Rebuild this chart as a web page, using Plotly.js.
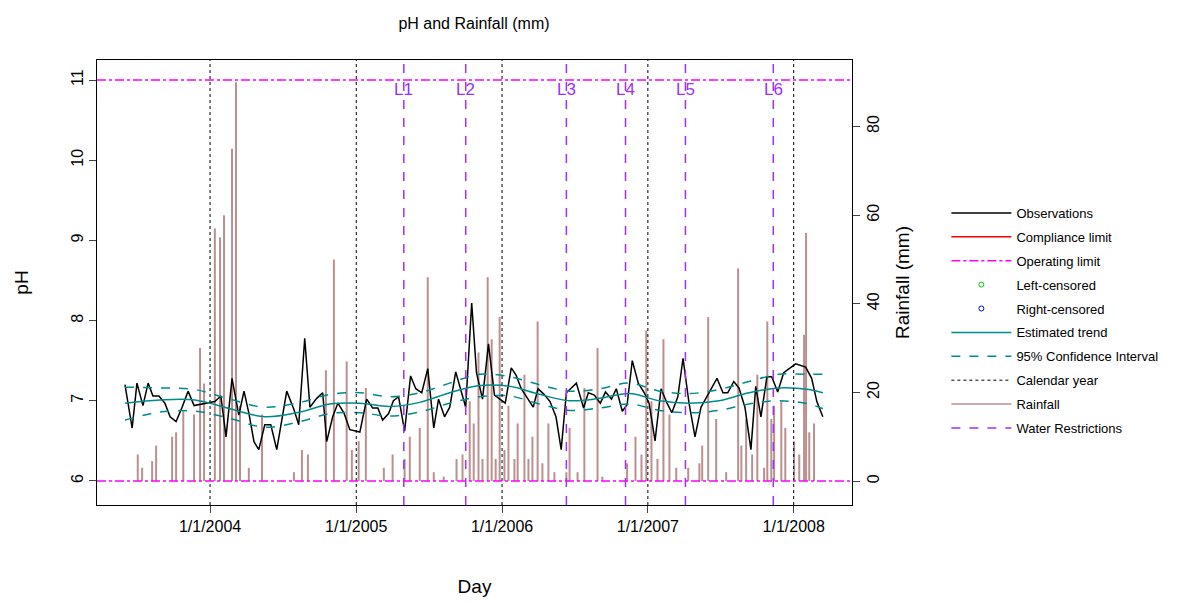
<!DOCTYPE html>
<html>
<head>
<meta charset="utf-8">
<script src="https://cdn.plot.ly/plotly-3.0.1.min.js"></script>
<style>
  body { margin: 0; background: white; }
  #chart { width: 1197px; height: 603px; }
</style>
</head>
<body>
<div id="chart"></div>
<script>
// pH observations
var obsDates = ['2003-06-02','2003-06-20','2003-07-02','2003-07-17','2003-07-30','2003-08-11','2003-08-26',
  '2003-09-10','2003-09-23','2003-10-08','2003-10-23','2003-11-07','2003-11-22','2003-12-30','2004-01-13',
  '2004-01-28','2004-02-10','2004-02-25','2004-03-13','2004-03-26','2004-04-07','2004-04-20','2004-05-02',
  '2004-05-17','2004-06-01','2004-06-16','2004-07-11','2004-07-29','2004-08-10','2004-08-25','2004-09-07',
  '2004-09-24','2004-10-09','2004-10-19','2004-11-03','2004-11-16','2004-12-01','2004-12-16','2005-01-10',
  '2005-01-27','2005-02-11','2005-02-24','2005-03-08','2005-03-23','2005-04-04','2005-04-17','2005-05-02',
  '2005-05-17','2005-05-30','2005-06-14','2005-06-29','2005-07-14','2005-07-26','2005-08-10','2005-08-23',
  '2005-09-07','2005-09-19','2005-10-02','2005-10-17','2005-10-29','2005-11-13','2005-11-28','2005-12-13',
  '2005-12-28','2006-01-09','2006-01-24','2006-02-05','2006-02-18','2006-03-05','2006-03-20','2006-04-01',
  '2006-04-16','2006-05-01','2006-05-16','2006-05-29','2006-06-11','2006-07-06','2006-07-24','2006-08-05',
  '2006-08-20','2006-09-04','2006-09-17','2006-10-02','2006-10-14','2006-10-29','2006-11-10','2006-11-23',
  '2006-12-08','2006-12-23','2007-01-04','2007-01-19','2007-02-03','2007-02-18','2007-03-02','2007-03-17',
  '2007-03-30','2007-04-14','2007-04-29','2007-05-14','2007-05-26','2007-06-10','2007-06-23','2007-07-08',
  '2007-07-20','2007-08-04','2007-08-17','2007-09-01','2007-09-16','2007-09-28','2007-10-11','2007-10-26',
  '2007-11-07','2007-11-22','2007-12-07','2008-01-06','2008-01-31','2008-02-15','2008-02-28','2008-03-14'];
var obsPH = [7.2,6.66,7.22,6.94,7.22,7.06,7.06,
  6.97,6.8,6.74,6.92,7.12,6.94,6.97,6.99,
  7.06,6.55,7.28,6.82,7.12,6.85,6.49,6.39,
  6.7,6.7,6.39,7.12,6.89,6.7,7.78,6.92,
  7.03,7.1,6.49,6.8,6.97,6.85,6.64,6.61,
  7.02,6.91,6.91,6.76,6.84,7.0,7.05,6.62,
  7.31,7.15,7.1,7.4,6.66,7.02,6.8,6.92,
  7.36,7.16,6.92,8.22,7.35,7.02,7.71,7.07,
  7.01,6.97,7.41,7.32,7.15,7.03,6.92,7.15,
  7.08,6.99,6.8,6.39,7.1,7.22,6.91,7.1,
  7.07,6.97,7.11,7.02,7.15,6.87,6.95,7.5,
  7.22,7.1,6.97,6.5,7.15,6.97,6.85,7.05,
  7.53,6.97,6.55,6.92,7.03,7.16,7.28,7.1,
  7.1,7.24,7.16,6.92,6.39,7.18,6.8,7.3,
  7.3,7.11,7.35,7.46,7.42,7.28,6.99,6.8];

// estimated trend and 95% confidence interval
var trendDates = ['2003-06-02','2003-08-29','2003-11-24','2004-02-20','2004-05-17','2004-08-13','2004-10-27',
  '2005-01-10','2005-03-26','2005-06-09','2005-08-23','2005-11-06','2006-01-20','2006-04-05','2006-06-19',
  '2006-09-02','2006-11-16','2007-01-30','2007-04-14','2007-06-28','2007-09-11','2007-11-25','2008-02-08','2008-03-14'];
var trend = [6.97,7.01,7.01,6.9,6.8,6.86,6.96,6.97,6.93,6.98,7.1,7.19,7.18,7.08,7.0,7.03,7.09,7.0,6.97,7.0,7.1,7.16,7.14,7.1];
var upperCI = [7.17,7.16,7.14,7.02,6.92,6.98,7.08,7.1,7.05,7.1,7.22,7.33,7.3,7.2,7.12,7.15,7.22,7.12,7.09,7.14,7.24,7.33,7.33,7.33];
var lowerCI = [6.76,6.86,6.87,6.78,6.67,6.74,6.84,6.85,6.81,6.86,6.97,7.05,7.06,6.96,6.88,6.91,6.96,6.88,6.85,6.88,6.96,7.0,6.96,6.9];

// rainfall (mm)
var rainDates = ['2003-07-04','2003-07-15','2003-08-09','2003-08-19','2003-09-28','2003-10-08','2003-10-26',
  '2003-11-22','2003-12-07','2003-12-17','2004-01-13','2004-01-26','2004-02-05','2004-02-25','2004-03-06',
  '2004-03-16','2004-04-07','2004-05-10','2004-07-29','2004-08-18','2004-09-02','2004-10-17','2004-11-06',
  '2004-12-08','2004-12-21','2005-01-07','2005-01-25','2005-03-11','2005-04-02','2005-05-02','2005-05-15',
  '2005-06-09','2005-06-29','2005-07-14','2005-08-08','2005-09-09','2005-09-24','2005-10-12','2005-10-22',
  '2005-11-03','2005-11-13','2005-11-26','2005-12-06','2005-12-16','2005-12-26','2006-01-07','2006-01-17',
  '2006-02-01','2006-02-09','2006-02-26','2006-03-08','2006-03-18','2006-03-31','2006-04-12','2006-04-27',
  '2006-05-12','2006-06-11','2006-06-19','2006-07-09','2006-07-26','2006-08-28','2006-09-09','2006-11-10',
  '2006-12-01','2006-12-16','2006-12-28','2007-01-10','2007-01-25','2007-02-09','2007-02-24','2007-03-13',
  '2007-04-12','2007-05-10','2007-05-17','2007-06-01','2007-06-21','2007-07-16','2007-08-15','2007-08-23',
  '2007-09-04','2007-09-19','2007-10-02','2007-10-19','2007-10-27','2007-11-06','2007-11-13','2007-12-01',
  '2007-12-11','2008-01-02','2008-01-15','2008-01-27','2008-02-01','2008-02-09','2008-02-21'];
var rainMM = [6,3,4.5,8,10,11,16,
  15,30,22,57,55,60,75,90,
  17,3,15,2,7,6,25,50,
  27,7,9,21,3,6,5,10,
  12,46,2,1,5,6,18,13,
  29,5,46,32,5,37,7,17,
  5,13,24,5,10,36,4,13,
  2,2,12,2,21,30,1,4,
  10,6,34,18,5,32,15,3,
  3,4,8,37,14,2,48,8,
  14,6,24,3,36,14,17,18,
  12,9,6,33,56,11,13];

var yearTicks = ['2004-01-01','2005-01-01','2006-01-01','2007-01-01','2008-01-01'];
var yearLabels = ['1/1/2004','1/1/2005','1/1/2006','1/1/2007','1/1/2008'];
var restrictDates = ['2005-04-30','2005-10-02','2006-06-11','2006-11-06','2007-04-05','2007-11-11'];
var restrictLabels = ['L1','L2','L3','L4','L5','L6'];
var operatingLimits = [6, 11];

var purple = '#9B30FF';
var teal = '#008B8B';
var rainColour = '#BC8F8F';

var traces = [
  {x: rainDates, y: rainMM, type: 'bar', yaxis: 'y', width: 5 * 86400000,
   marker: {color: rainColour, line: {width: 0}}, showlegend: false, hoverinfo: 'x+y'},
  {x: obsDates, y: obsPH, mode: 'lines', yaxis: 'y2', name: 'Observations',
   line: {color: 'black', width: 1.5}},
  {x: [null], y: [null], mode: 'lines', yaxis: 'y2', name: 'Compliance limit',
   line: {color: 'red', width: 1.5}},
  {x: [null], y: [null], mode: 'lines', yaxis: 'y2', name: 'Operating limit',
   line: {color: 'magenta', width: 1.5, dash: 'dashdot'}},
  {x: [null], y: [null], mode: 'markers', yaxis: 'y2', name: 'Left-censored',
   marker: {symbol: 'circle-open', color: '#00CC00', size: 5}},
  {x: [null], y: [null], mode: 'markers', yaxis: 'y2', name: 'Right-censored',
   marker: {symbol: 'circle-open', color: 'blue', size: 5}},
  {x: trendDates, y: trend, mode: 'lines', yaxis: 'y2', name: 'Estimated trend',
   line: {color: teal, width: 1.5, shape: 'spline'}},
  {x: trendDates, y: upperCI, mode: 'lines', yaxis: 'y2', name: '95% Confidence Interval',
   line: {color: teal, width: 1.5, dash: 'dash', shape: 'spline'}},
  {x: trendDates, y: lowerCI, mode: 'lines', yaxis: 'y2', showlegend: false,
   line: {color: teal, width: 1.5, dash: 'dash', shape: 'spline'}},
  {x: [null], y: [null], mode: 'lines', yaxis: 'y2', name: 'Calendar year',
   line: {color: 'black', width: 1, dash: 'dot'}},
  {x: [null], y: [null], mode: 'lines', yaxis: 'y2', name: 'Rainfall',
   line: {color: rainColour, width: 1.5}},
  {x: [null], y: [null], mode: 'lines', yaxis: 'y2', name: 'Water Restrictions',
   line: {color: purple, width: 1.5, dash: 'dash'}}
];
// one legend group per entry so tracegroupgap spaces the rows
traces.forEach(function (t, i) { t.legendgroup = 'g' + i; });

var shapes = [];
yearTicks.forEach(function (d) {
  shapes.push({type: 'line', xref: 'x', yref: 'paper', x0: d, x1: d, y0: 0, y1: 1,
    line: {color: 'black', width: 1, dash: 'dot'}});
});
restrictDates.forEach(function (d) {
  shapes.push({type: 'line', xref: 'x', yref: 'paper', x0: d, x1: d, y0: 0, y1: 1,
    line: {color: purple, width: 1.5, dash: 'dash'}});
});
operatingLimits.forEach(function (v) {
  shapes.push({type: 'line', xref: 'paper', yref: 'y2', x0: 0, x1: 1, y0: v, y1: v,
    line: {color: 'magenta', width: 1.5, dash: 'dashdot'}});
});

var annotations = restrictDates.map(function (d, i) {
  return {x: d, y: 11, xref: 'x', yref: 'y2', text: restrictLabels[i], showarrow: false,
    yanchor: 'top', xanchor: 'center', yshift: 2, font: {color: purple, size: 17}};
});

var layout = {
  width: 1197, height: 603,
  font: {family: 'Liberation Sans, Arial, sans-serif', size: 16, color: 'black'},
  paper_bgcolor: 'white', plot_bgcolor: 'white',
  margin: {l: 97, r: 345, t: 60, b: 98},
  title: {text: 'pH and Rainfall (mm)', x: 0.396, xanchor: 'center', y: 0.97, font: {size: 16}},
  showlegend: true,
  legend: {x: 1.125, xanchor: 'left', y: 0.69, yanchor: 'top', font: {size: 13},
    traceorder: 'grouped', tracegroupgap: 4, itemwidth: 60, bgcolor: 'rgba(0,0,0,0)'},
  xaxis: {type: 'date', range: ['2003-03-24', '2008-05-26'], tickvals: yearTicks, ticktext: yearLabels,
    ticks: 'outside', ticklen: 7, showgrid: false, zeroline: false, showline: true, mirror: true,
    linecolor: 'black', linewidth: 1,
    title: {text: 'Day', standoff: 45}},
  yaxis: {range: [-5.4, 95], side: 'right', tickvals: [0, 20, 40, 60, 80], tickangle: -90,
    ticks: 'outside', ticklen: 7, showgrid: false, zeroline: false, showline: true,
    linecolor: 'black', title: {text: 'Rainfall (mm)', standoff: 14}},
  yaxis2: {range: [5.7, 11.25], overlaying: 'y', side: 'left', tickvals: [6, 7, 8, 9, 10, 11],
    tickangle: -90, ticks: 'outside', ticklen: 7, showgrid: false, zeroline: false, showline: true,
    linecolor: 'black', title: {text: 'pH', standoff: 34}},
  shapes: shapes,
  annotations: annotations
};

Plotly.newPlot('chart', traces, layout, {staticPlot: true});
</script>
</body>
</html>
